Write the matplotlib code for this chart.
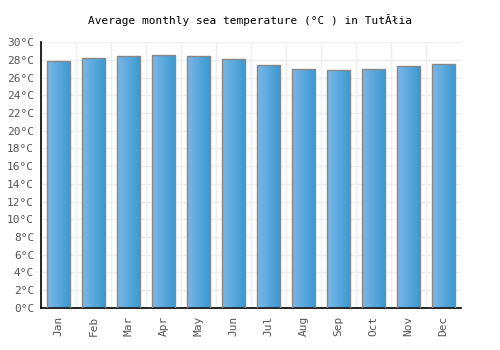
import matplotlib
matplotlib.use("Agg")
import matplotlib.pyplot as plt
import numpy as np
from matplotlib.colors import LinearSegmentedColormap

months = ["Jan", "Feb", "Mar", "Apr", "May", "Jun",
          "Jul", "Aug", "Sep", "Oct", "Nov", "Dec"]
temps = [27.9, 28.2, 28.4, 28.6, 28.4, 28.1, 27.4, 27.0, 26.9, 27.0, 27.3, 27.6]
yticks = list(range(0, 31, 2))
title = "Average monthly sea temperature (°C ) in TutĂłia"

plt.rcParams["font.family"] = ["DejaVu Sans Mono"]

fig = plt.figure(figsize=(5, 3.5), dpi=100)
ax = fig.add_axes([0.082, 0.121, 0.84, 0.758])

x = np.arange(len(months))
bars = ax.bar(x, temps, width=0.67, color="none", edgecolor="#888888", linewidth=1, zorder=3)

# horizontal gradient for each bar, clipped to the bar shape
cmap = LinearSegmentedColormap.from_list("blu", ["#7ab8ea", "#3a98cf"])
grad = np.linspace(0, 1, 64).reshape(1, -1)
for b in bars:
    bx, by = b.get_x(), b.get_y()
    im = ax.imshow(grad, cmap=cmap, aspect="auto", zorder=2,
                   extent=[bx, bx + b.get_width(), by, by + b.get_height()])
    im.set_clip_path(b)

ax.set_xlim(-0.5, len(months) - 0.5)
ax.set_ylim(0, 30)
ax.set_yticks(yticks)
ax.set_yticklabels([f"{t}°C" for t in yticks])
ax.set_xticks(x)
ax.set_xticklabels(months, rotation=90)

# grid on category boundaries and every 2 degrees
ax.set_xticks(np.arange(-0.5, len(months), 1), minor=True)
ax.grid(which="minor", axis="x", color="#eeeeee", linewidth=1, zorder=0)
ax.grid(which="major", axis="y", color="#eeeeee", linewidth=1, zorder=0)
ax.tick_params(axis="both", which="both", length=0, labelsize=8, colors="#555555")
ax.tick_params(axis="x", pad=6)
ax.tick_params(axis="y", pad=5)

for s in ["top", "right"]:
    ax.spines[s].set_visible(False)
ax.spines["left"].set_color("black")
ax.spines["bottom"].set_color("black")
ax.spines["left"].set_linewidth(1.2)
ax.spines["bottom"].set_linewidth(1.2)

fig.text(0.5, 0.943, title, ha="center", va="center", fontsize=8, color="black")

fig.savefig("out.png", dpi=100)
